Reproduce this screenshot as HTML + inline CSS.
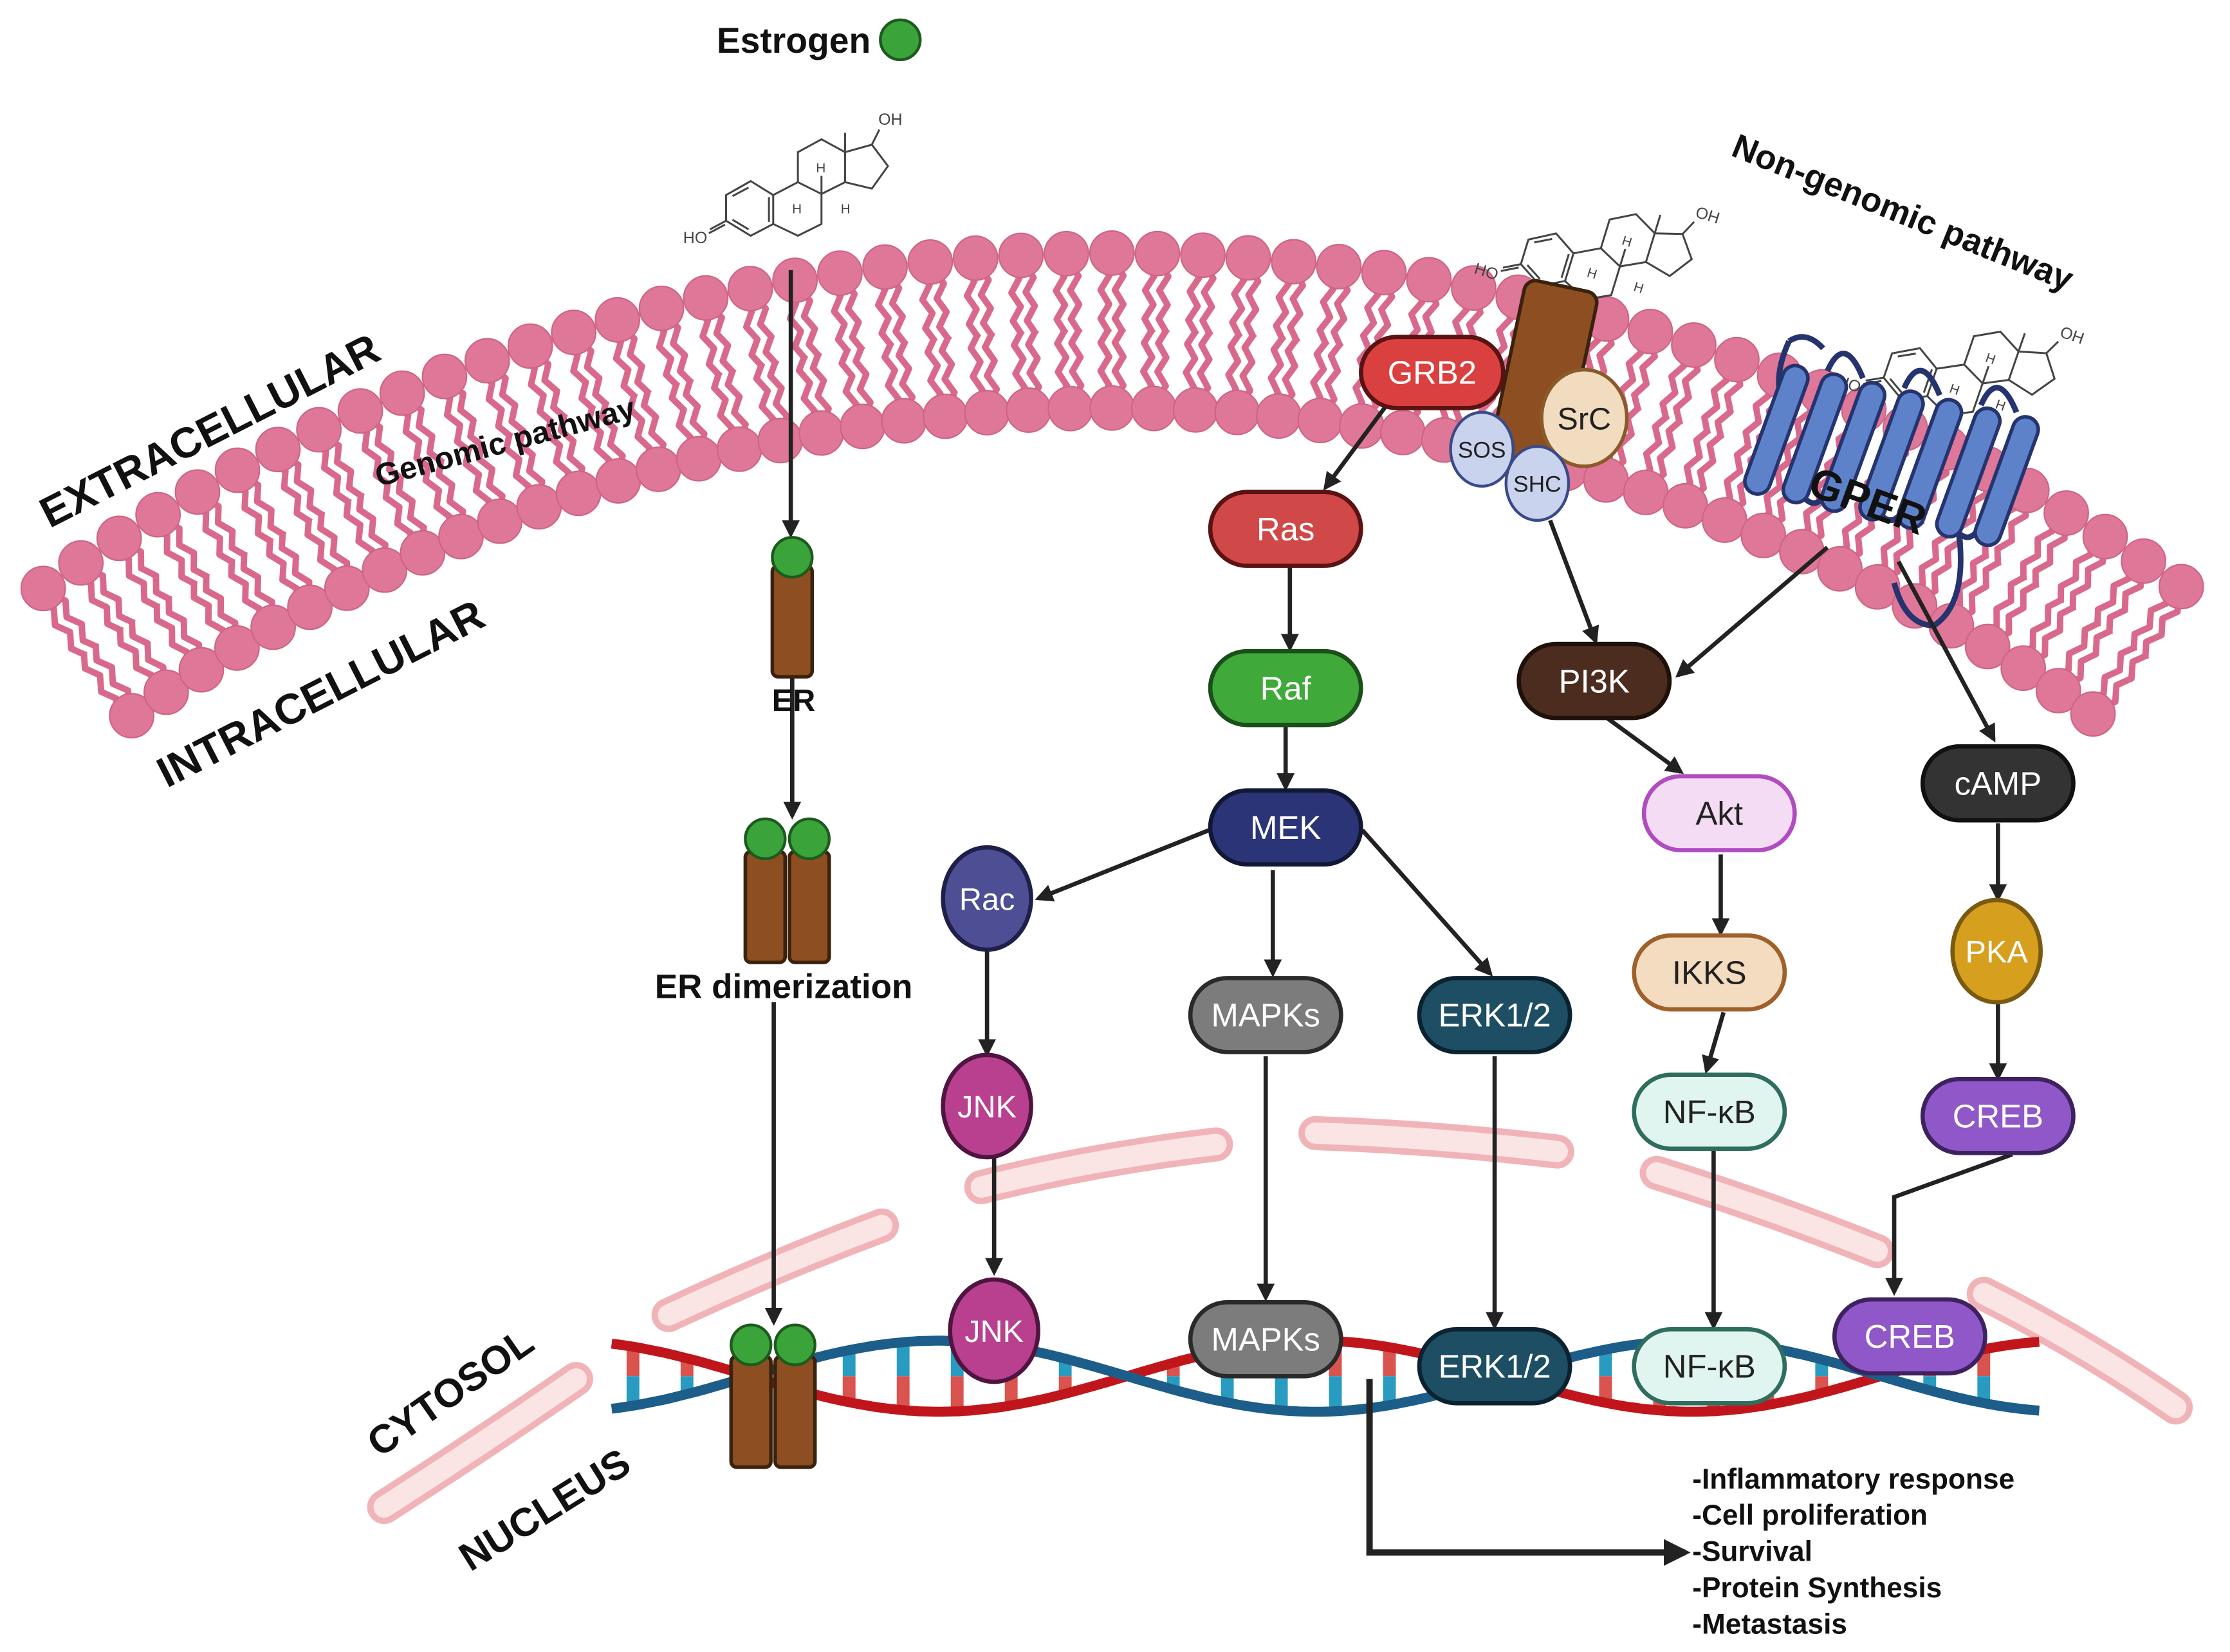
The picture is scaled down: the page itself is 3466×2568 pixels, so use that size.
<!DOCTYPE html>
<html><head><meta charset="utf-8"><style>
html,body{margin:0;padding:0;background:#fff}
svg{display:block}
text{font-family:"Liberation Sans",Arial,sans-serif}
</style></head><body>
<svg id="s" xmlns="http://www.w3.org/2000/svg" width="3466" height="2568" viewBox="0 0 1568 1162">
<defs>
<marker id="ah" viewBox="0 0 10 10" refX="8" refY="5" markerWidth="4.2" markerHeight="4.2" orient="auto" markerUnits="strokeWidth">
<path d="M0,0 L10,5 L0,10 z" fill="#222"/></marker>
</defs>
<rect width="1568" height="1162" fill="#fff"/>
<g id="env"></g>
<g id="mem"></g>
<g id="dna"></g>
<g id="mol"></g>
<g id="fg"></g>
</svg>
<script>
const NS="http://www.w3.org/2000/svg";
function el(p,tag,attrs,txt){const e=document.createElementNS(NS,tag);for(const k in attrs)e.setAttribute(k,attrs[k]);if(txt!==undefined)e.textContent=txt;document.getElementById(p).appendChild(e);return e;}
[[690,835,770,815,855,805],[925,797,1010,800,1095,810],[1165,825,1245,850,1320,880],[470,925,545,890,620,862],[270,1060,340,1015,405,970],[1395,910,1465,945,1530,990]].forEach(a=>{
 const d=`M${a[0]},${a[1]} Q${a[2]},${a[3]} ${a[4]},${a[5]}`;
 el("env","path",{d:d,stroke:"#f0b4b8","stroke-width":24,fill:"none","stroke-linecap":"round"});
 el("env","path",{d:d,stroke:"#fbe4e4","stroke-width":15,fill:"none","stroke-linecap":"round"});
});
const cx=783,Ro=1319,cy=178+Ro,Ri=1210;
const A0=-34.8,A1=34.8,ST=1.39;
for(let a=A0;a<=A1+0.01;a+=ST){
 const r=a*Math.PI/180,sx=Math.sin(r),cyy=Math.cos(r);
 for(const [R,dir] of [[Ro,-1],[Ri,1]]){
  for(const off of [-5,5]){
   const px=cyy*off,py=sx*off;
   let pts=[];
   for(let t=0;t<=5;t++){
     const rr=R+dir*(t*10+6);
     const w=(t%2?3:-3);
     pts.push((cx+rr*sx+px+cyy*w).toFixed(1)+","+(cy-rr*cyy+py+sx*w).toFixed(1));
   }
   el("mem","polyline",{points:pts.join(" "),fill:"none",stroke:"#d9698c","stroke-width":4.5,"stroke-linejoin":"round"});
  }
 }
}
for(let a=A0;a<=A1+0.01;a+=ST){
 const r=a*Math.PI/180;
 for(const R of [Ro,Ri]){
  el("mem","circle",{cx:cx+R*Math.sin(r),cy:cy-R*Math.cos(r),r:15.5,fill:"#df7898",stroke:"#cf6485","stroke-width":1});
 }
}
function strand(sign){let p=[];for(let x=430;x<=1437;x+=4){p.push(x+","+(968+sign*25*Math.cos(2*Math.PI*(x-660)/530)).toFixed(1));}return p.join(" ");}
for(let x=445;x<=1420;x+=38){
 const yb=968-25*Math.cos(2*Math.PI*(x-660)/530), yr=968+25*Math.cos(2*Math.PI*(x-660)/530);
 const ym=(yb+yr)/2;
 if(Math.abs(yb-yr)<10)continue;
 el("dna","line",{x1:x,y1:yr,x2:x,y2:ym,stroke:"#d9534f","stroke-width":9});
 el("dna","line",{x1:x,y1:ym,x2:x,y2:yb,stroke:"#2a9bc0","stroke-width":9});
}
el("dna","polyline",{points:strand(1),fill:"none",stroke:"#c0161b","stroke-width":7});
el("dna","polyline",{points:strand(-1),fill:"none",stroke:"#1c5d8a","stroke-width":7});
function mol(tr){
 const g=document.createElementNS(NS,"g");g.setAttribute("transform",tr);document.getElementById("mol").appendChild(g);
 const P=(d,w)=>{const e=document.createElementNS(NS,"path");e.setAttribute("d",d);e.setAttribute("fill","none");e.setAttribute("stroke","#444");e.setAttribute("stroke-width",w||9);g.appendChild(e);};
 const T=(x,y,s,t)=>{const e=document.createElementNS(NS,"text");e.setAttribute("x",x);e.setAttribute("y",y);e.setAttribute("font-size",s);e.setAttribute("fill","#444");e.textContent=t;g.appendChild(e);};
 P("M500,425 L605,490 L605,625 L500,680 L385,610 L385,490 Z");
 P("M415,495 L490,455 M415,605 L490,650 M585,500 L585,615");
 P("M605,490 L720,430 L830,485 L830,625 L720,680 L605,625");
 P("M720,430 L720,290 L830,230 L940,290 L940,430 L830,485");
 P("M940,290 L1065,255 L1140,355 L1065,460 L940,430");
 P("M940,290 L940,200 M1065,255 L1100,185 M830,485 L830,400 M385,610 L310,650 M380,628 L305,668");
 T(185,715,75,"HO");T(1095,162,75,"OH");T(805,385,62,"H");T(693,575,62,"H");T(920,575,62,"H");
}
const base="translate(452.4,63.3) scale(0.1508)";
mol(base);
mol("translate(1045,191) rotate(17) translate(-488.6,-167.4) "+base);
mol("translate(1300,270) rotate(19) translate(-488.6,-167.4) "+base);
const F="fg";
el(F,"rect",{x:1060,y:200,width:52,height:125,rx:8,fill:"#8d4f21",stroke:"#3a220e","stroke-width":2.5,transform:"rotate(12 1086 262)"});
el(F,"path",{d:"M1258,240 Q1248,262 1252,278 M1258,240 Q1270,232 1282,245 M1372,345 Q1390,420 1360,440 Q1340,440 1332,410",fill:"none",stroke:"#25336e","stroke-width":4});
for(let i=0;i<7;i++){
 const x=1250+i*27, y=300+i*6;
 el(F,"rect",{x:x-9,y:y-45,width:18,height:95,rx:9,fill:"#5d82c9",stroke:"#25336e","stroke-width":2.5,transform:`rotate(20 ${x} ${y})`});
 if(i<6){const up=i%2==0;el(F,"path",{d:up?`M${x+12},${y+40} Q${x+25},${y+65} ${x+35},${y+45}`:`M${x+8},${y-45} Q${x+20},${y-72} ${x+33},${y-40}`,fill:"none",stroke:"#25336e","stroke-width":4});}
}
el(F,"ellipse",{cx:1114,cy:294,rx:30,ry:34,fill:"#f1dcc0",stroke:"#8a5a2a","stroke-width":2.5});
el(F,"text",{x:1114,y:302,"font-size":22,"text-anchor":"middle",fill:"#222"},"SrC");
el(F,"ellipse",{cx:1042,cy:316,rx:22,ry:26,fill:"#c9d3ee",stroke:"#3a4a88","stroke-width":2});
el(F,"text",{x:1042,y:322,"font-size":16,"text-anchor":"middle",fill:"#222"},"SOS");
el(F,"ellipse",{cx:1081,cy:340,rx:22,ry:26,fill:"#c9d3ee",stroke:"#3a4a88","stroke-width":2});
el(F,"text",{x:1081,y:346,"font-size":16,"text-anchor":"middle",fill:"#222"},"SHC");
function arr(pts){el(F,"polyline",{points:pts,fill:"none",stroke:"#222","stroke-width":3,"marker-end":"url(#ah)"});}
[["556,190 556,376"],["557,476 557,574"],["544,705 544,930"],["975,285 932,343"],["907,399 907,456"],["904,511 904,554"],["850,584 730,632"],["895,612 895,685"],["958,584 1048,685"],["694,669 694,741"],["699,806 699,895"],["890,743 890,913"],["1051,743 1051,933"],["1090,366 1122,451"],["1285,385 1180,475"],["1335,395 1402,520"],["1130,505 1182,543"],["1210,601 1210,656"],["1212,712 1200,753"],["1205,800 1205,933"],["1405,579 1405,632"],["1405,705 1405,758"],["1415,812 1332,842 1332,909"]].forEach(a=>arr(a[0]));
el(F,"polyline",{points:"963,970 963,1092 1185,1092",fill:"none",stroke:"#222","stroke-width":4.5,"marker-end":"url(#ah)"});
function pill(x,y,w,h,fill,stroke,txt,tc){el(F,"rect",{x:x-w/2,y:y-h/2,width:w,height:h,rx:h/2,fill:fill,stroke:stroke,"stroke-width":3});el(F,"text",{x:x,y:y+8,"font-size":23,"text-anchor":"middle",fill:tc||"#fff"},txt);}
function oval(x,y,fill,stroke,txt,tc){el(F,"ellipse",{cx:x,cy:y,rx:31,ry:36,fill:fill,stroke:stroke,"stroke-width":3});el(F,"text",{x:x,y:y+8,"font-size":22,"text-anchor":"middle",fill:tc||"#fff"},txt);}
pill(1007,262,100,50,"#d9403f","#5a1212","GRB2");
pill(904,372,106,52,"#d04848","#5a1212","Ras");
pill(904,484,106,52,"#3faa3a","#1b4f19","Raf");
pill(904,582,106,52,"#2b3476","#111833","MEK");
oval(694,632,"#4d4e94","#1f1f4a","Rac");
oval(694,778,"#b8408f","#4f1540","JNK");
oval(699,936,"#b8408f","#4f1540","JNK");
pill(890,714,106,52,"#7c7c7c","#2a2a2a","MAPKs");
pill(890,942,106,52,"#7c7c7c","#2a2a2a","MAPKs");
pill(1051,714,106,52,"#1d4e63","#0b2230","ERK1/2");
pill(1051,961,106,52,"#1d4e63","#0b2230","ERK1/2");
pill(1121,479,106,52,"#4b2c1f","#1e110a","PI3K");
pill(1209,572,106,52,"#f4dcf4","#b04cc0","Akt","#222");
pill(1202,684,106,52,"#f3dcc0","#a0602a","IKKS","#222");
pill(1202,782,106,52,"#e0f5ef","#2f6d5e","NF-κB","#222");
pill(1202,961,106,52,"#e0f5ef","#2f6d5e","NF-κB","#222");
pill(1405,551,106,52,"#333","#111","cAMP");
oval(1404,669,"#d6a01e","#7a5a10","PKA");
pill(1405,785,106,52,"#9057c8","#3e2260","CREB");
pill(1343,940,106,52,"#9057c8","#3e2260","CREB");
function er(x,y){el(F,"rect",{x:x-14,y:y-38,width:28,height:78,rx:4,fill:"#8d4f21",stroke:"#3a220e","stroke-width":2.5});}
function gc(x,y){el(F,"circle",{cx:x,cy:y,r:14,fill:"#3aa33a",stroke:"#1d5a1d","stroke-width":2});}
er(557,436);gc(557,392);
er(538,637);er(569,637);gc(538,590);gc(569,590);
er(528,992);er(559,992);gc(528,946);gc(559,946);
gc(633,28);
function lab(x,y,s,t,rot,anchor){el(F,"text",{x:x,y:y,"font-size":s,"font-weight":"bold",fill:"#111","text-anchor":anchor||"middle",transform:rot?`rotate(${rot} ${x} ${y})`:""},t);}
lab(558,37,25,"Estrogen");
lab(558,500,22,"ER");
lab(551,702,24,"ER dimerization");
lab(152,312,30,"EXTRACELLULAR",-27);
lab(230,497,30,"INTRACELLULAR",-27);
lab(357,318,22,"Genomic pathway",-15);
lab(1335,157,24,"Non-genomic pathway",22);
lab(1310,362,30,"GPER",20);
lab(322,987,28,"CYTOSOL",-35);
lab(388,1070,28,"NUCLEUS",-32);
["-Inflammatory response","-Cell proliferation","-Survival","-Protein Synthesis","-Metastasis"].forEach((t,i)=>lab(1190,1047+i*25.5,20,t,0,"start"));
</script>
</body></html>
